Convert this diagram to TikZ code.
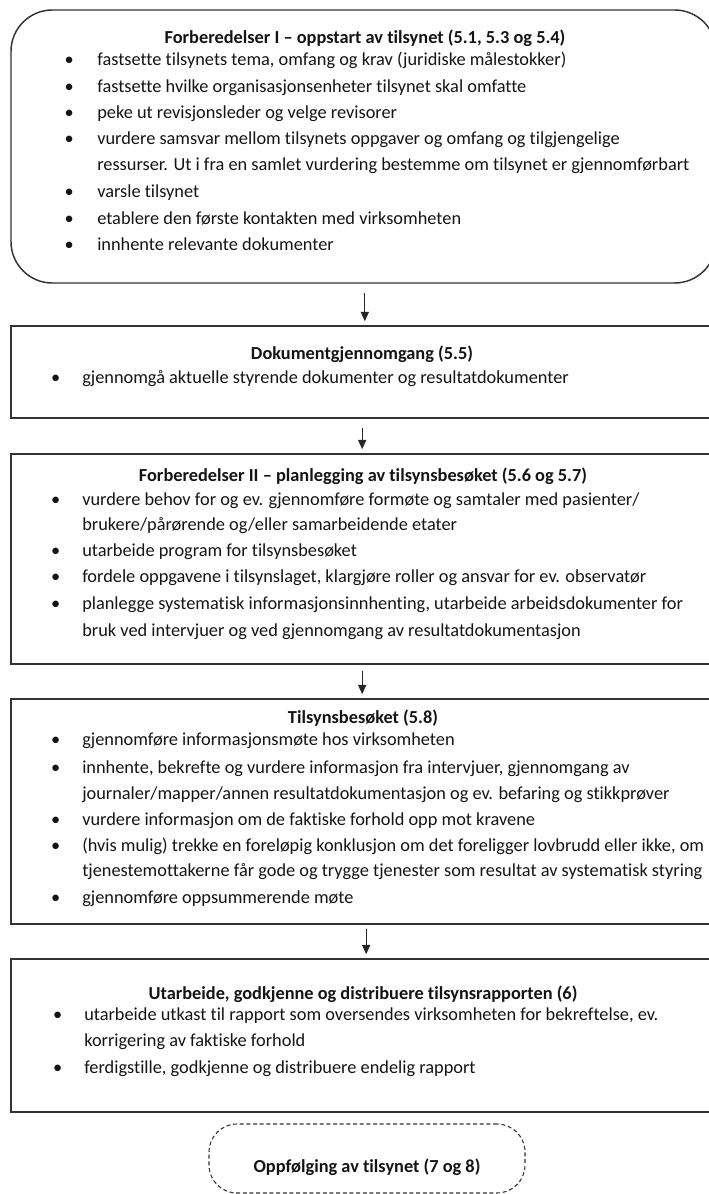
\documentclass[tikz,border=0pt]{standalone}
\usepackage{fontspec}
\setmainfont{Carlito}[Ligatures=NoCommon]
\usetikzlibrary{arrows.meta}
% bullet set in the left margin of a list line
\newcommand{\bulA}{\llap{\textbullet\hspace{17.6pt}}}
\newcommand{\bulB}{\llap{\textbullet\hspace{16.5pt}}}
\begin{document}
\begin{tikzpicture}[x=0.75pt,y=-0.75pt,
  frame/.style={draw=black!80,line width=1.1pt,inner sep=0pt,minimum width=528.75pt},
  txt/.style={anchor=base west,inner sep=0pt,font=\fontsize{13.75}{16}\selectfont,text=black!92},
  ttl/.style={anchor=base,inner sep=0pt,font=\fontsize{13.75}{16}\selectfont\bfseries,text=black!92},
  arr/.style={draw=black!85,line width=0.9pt,-{Triangle[length=7pt,width=6pt]}}]
\useasboundingbox (0,0) rectangle (709,1194);
\clip (0,0) rectangle (709,1194);

% stage frames
\node[frame,rounded corners=31pt,minimum height=204.75pt] (b1) at (363.5,146.5) {};
\node[frame,minimum height=69pt] (b2) at (363.5,372) {};
\node[frame,minimum height=157.5pt] (b3) at (363.5,559) {};
\node[frame,minimum height=168.75pt] (b4) at (363.5,811.5) {};
\node[frame,minimum height=114.75pt] (b5) at (363.5,1035.5) {};
\node[draw=black!80,line width=0.8pt,dash pattern=on 3pt off 2pt,rounded corners=21pt,
      inner sep=0pt,minimum width=237pt,minimum height=51.75pt] (b6) at (367,1158.5) {};

% stage 1
\node[ttl] (t1) at (365,44) {Forberedelser I – oppstart av tilsynet (5.1, 5.3 og 5.4)};
\node[txt] (l1a) at (97,66) {\bulA fastsette tilsynets tema, omfang og krav (juridiske målestokker)};
\node[txt] (l1b) at (97,93) {\bulA fastsette hvilke organisasjonsenheter tilsynet skal omfatte};
\node[txt] (l1c) at (97,119) {\bulA peke ut revisjonsleder og velge revisorer};
\node[txt] (l1d) at (97,145) {\bulA vurdere samsvar mellom tilsynets oppgaver og omfang og tilgjengelige};
\node[txt] (l1e) at (97,171) {ressurser. Ut i fra en samlet vurdering bestemme om tilsynet er gjennomførbart};
\node[txt] (l1f) at (97,198) {\bulA varsle tilsynet};
\node[txt] (l1g) at (97,225) {\bulA etablere den første kontakten med virksomheten};
\node[txt] (l1h) at (97,251) {\bulA innhente relevante dokumenter};

% stage 2
\node[ttl] (t2) at (362,359) {Dokumentgjennomgang (5.5)};
\node[txt] (l2a) at (82,383) {\bulB gjennomgå aktuelle styrende dokumenter og resultatdokumenter};

% stage 3
\node[ttl] (t3) at (363,481) {Forberedelser II – planlegging av tilsynsbesøket (5.6 og 5.7)};
\node[txt] (l3a) at (82,505) {\bulB vurdere behov for og ev. gjennomføre formøte og samtaler med pasienter/};
\node[txt] (l3b) at (82,530) {brukere/pårørende og/eller samarbeidende etater};
\node[txt] (l3c) at (82,556) {\bulB utarbeide program for tilsynsbesøket};
\node[txt] (l3d) at (82,582) {\bulB fordele oppgavene i tilsynslaget, klargjøre roller og ansvar for ev. observatør};
\node[txt] (l3e) at (82,609) {\bulB planlegge systematisk informasjonsinnhenting, utarbeide arbeidsdokumenter for};
\node[txt] (l3f) at (82,636) {bruk ved intervjuer og ved gjennomgang av resultatdokumentasjon};

% stage 4
\node[ttl] (t4) at (363,723) {Tilsynsbesøket (5.8)};
\node[txt] (l4a) at (82,745) {\bulB gjennomføre informasjonsmøte hos virksomheten};
\node[txt] (l4b) at (82,773) {\bulB innhente, bekrefte og vurdere informasjon fra intervjuer, gjennomgang av};
\node[txt] (l4c) at (82,799) {journaler/mapper/annen resultatdokumentasjon og ev. befaring og stikkprøver};
\node[txt] (l4d) at (82,825) {\bulB vurdere informasjon om de faktiske forhold opp mot kravene};
\node[txt] (l4e) at (82,851) {\bulB (hvis mulig) trekke en foreløpig konklusjon om det foreligger lovbrudd eller ikke, om};
\node[txt] (l4f) at (82,876) {tjenestemottakerne får gode og trygge tjenester som resultat av systematisk styring};
\node[txt] (l4g) at (82,903) {\bulB gjennomføre oppsummerende møte};

% stage 5
\node[ttl] (t5) at (363,999) {Utarbeide, godkjenne og distribuere tilsynsrapporten (6)};
\node[txt] (l5a) at (84,1020) {\bulB utarbeide utkast til rapport som oversendes virksomheten for bekreftelse, ev.};
\node[txt] (l5b) at (84,1046) {korrigering av faktiske forhold};
\node[txt] (l5c) at (84,1073) {\bulB ferdigstille, godkjenne og distribuere endelig rapport};

% follow-up
\node[ttl] (t6) at (367,1172) {Oppfølging av tilsynet (7 og 8)};

% flow arrows
\draw[arr,shorten <=6.75pt,shorten >=3pt] ([xshift=1pt]b1.south) -- ([xshift=1pt]b2.north);
\draw[arr,shorten <=6.75pt,shorten >=3pt] ([xshift=-1pt]b2.south) -- ([xshift=-1pt]b3.north);
\draw[arr,shorten <=4.5pt,shorten >=3pt] ([xshift=-1pt]b3.south) -- ([xshift=-1pt]b4.north);
\draw[arr,shorten <=3pt,shorten >=3pt] ([xshift=2pt]b4.south) -- ([xshift=2pt]b5.north);
\end{tikzpicture}
\end{document}
